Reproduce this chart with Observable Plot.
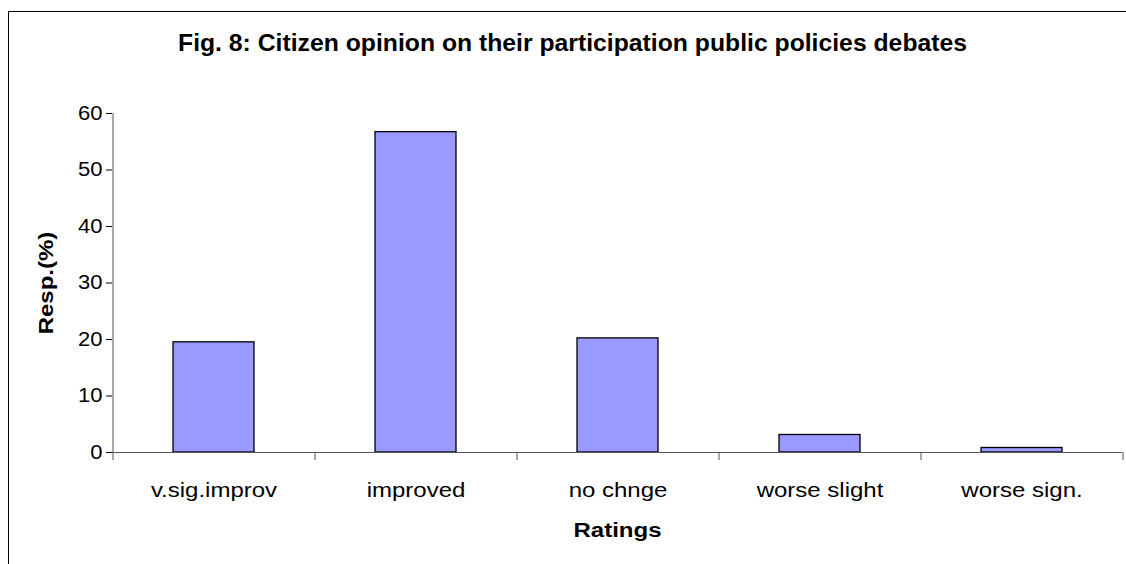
<!DOCTYPE html>
<html><head><meta charset="utf-8">
<script src="https://cdn.jsdelivr.net/npm/d3@7"></script>
<script src="https://cdn.jsdelivr.net/npm/@observablehq/plot@0.6"></script>
<style>
html,body{margin:0;padding:0;background:#fff;overflow:hidden;}
#wrap{position:relative;width:1126px;height:564px;overflow:hidden;}
#border{position:absolute;left:8px;top:11px;width:2000px;height:2000px;border:1px solid #000;pointer-events:none;}
</style></head><body>
<div id="wrap"><div id="chart"></div><div id="border"></div></div>
<script>
const categories = ["v.sig.improv", "improved", "no chnge", "worse slight", "worse sign."];
const values = [19.5, 56.7, 20.2, 3.1, 0.8];
const yTicks = [0, 10, 20, 30, 40, 50, 60];
const title = "Fig. 8: Citizen opinion on their participation public policies debates";
const xLabel = "Ratings";
const yLabel = "Resp.(%)";

const data = categories.map((c, i) => ({category: c, value: values[i]}));
const W = 1126, H = 564, mL = 112, mR = 4, mT = 113, mB = 112;
const step = (W - mL - mR) / categories.length;
const font = "'Liberation Sans', Arial, sans-serif";
const axisColor = "#555";

const plot = Plot.plot({
  width: W, height: H, marginLeft: mL, marginRight: mR, marginTop: mT, marginBottom: mB,
  style: {fontFamily: font, fontSize: "20px", color: "#000", background: "transparent", overflow: "visible"},
  x: {domain: categories, paddingInner: 0.6, paddingOuter: 0.3, label: null},
  y: {domain: [0, 60], label: null},
  marks: [
    Plot.barY(data, {x: "category", y: "value", fill: "#9999FF", stroke: "#000", strokeWidth: 1.3}),
    Plot.ruleY([0], {stroke: axisColor}),
    Plot.ruleX([categories[0]], {y1: 60, y2: 0, dx: -step / 2, insetBottom: -8, stroke: axisColor}),
    Plot.ruleX(categories, {y1: 0, y2: 0, dx: step / 2, insetBottom: -8, stroke: axisColor}),
    Plot.axisY({ticks: yTicks, tickSize: 6, tickPadding: 4, label: null, fontSize: 20, className: "yax"}),
    Plot.axisX({tickSize: 0, tickPadding: 30, label: null, fontSize: 20}),
    Plot.text([title], {frameAnchor: "top", textAnchor: "middle", lineAnchor: "middle", dx: -45, dy: -70, fontWeight: "bold", fontSize: 24}),
    Plot.text([xLabel], {frameAnchor: "bottom", textAnchor: "middle", lineAnchor: "middle", dy: 78, fontWeight: "bold", fontSize: 20}),
    Plot.text([yLabel], {frameAnchor: "left", textAnchor: "middle", lineAnchor: "middle", dx: -66, rotate: -90, fontWeight: "bold", fontSize: 20})
  ]
});
document.getElementById("chart").append(plot);
// Excel rendered the text with wider advances: widen each text along its baseline
plot.querySelectorAll("text").forEach(t => {
  const len = t.getComputedTextLength();
  const isTitle = t.textContent === title;
  const isYTick = yTicks.map(String).includes(t.textContent);
  t.setAttribute("textLength", isTitle ? 789 : len * (isYTick ? 1.1 : 1.2));
  t.setAttribute("lengthAdjust", "spacingAndGlyphs");
});
</script>
</body></html>
